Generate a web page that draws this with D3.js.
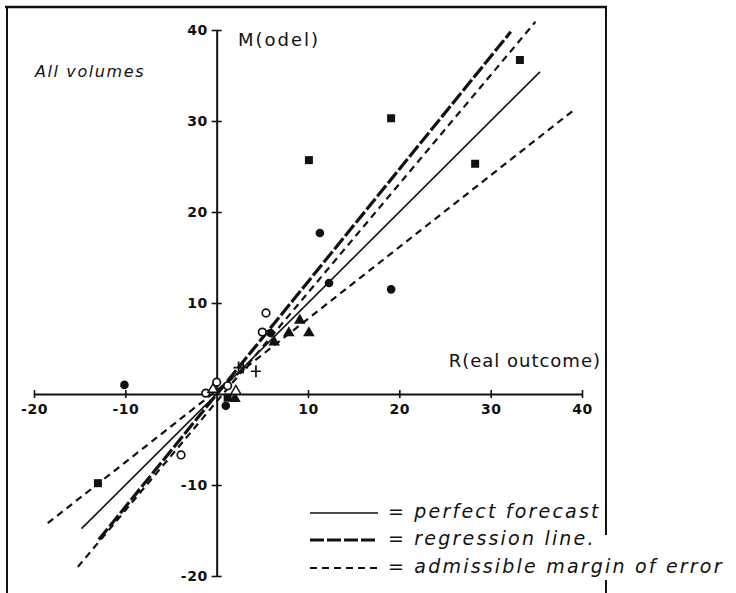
<!DOCTYPE html>
<html>
<head>
<meta charset="utf-8">
<script src="https://cdn.jsdelivr.net/npm/d3@7"></script>
<style>
body{margin:0;background:#fff;}
svg{display:block;}
text{font-family:"DejaVu Sans",sans-serif;fill:#111;}
</style>
</head>
<body>
<svg></svg>
<script>
// tick labels (0 is left out on both axes)
var xTicks = [-20,-10,10,20,30,40];
var yTicks = [40,30,20,10,-10,-20];

var squares = [[10.1,25.7],[19.1,30.3],[33.2,36.7],[28.3,25.3],[-13.0,-9.8],[1.2,-0.4]];
var dots = [[11.3,17.7],[12.3,12.2],[19.1,11.5],[-10.1,1.0],[5.9,6.7],[1.0,-1.3]];
var rings = [[5.4,8.9],[5.0,6.8],[-3.9,-6.7],[0,1.3],[1.2,0.9],[-1.2,0.1]];
var triangles = [[9.1,8.1],[7.9,6.7],[10.1,6.7],[6.3,5.7],[2.0,-0.5]];
var openTriangles = [[2.1,0.3],[-0.4,0.5]];
var crosses = [[2.4,2.9],[2.9,2.9],[4.3,2.5]];

// the four lines, start and end
var perfectLine = [[-14.8,-14.8],[35.4,35.4]];
var regressionLine = [[-12.9,-16.0],[32.2,39.8]];
var marginHigh = [[-15.2,-19.0],[34.9,40.9]];
var marginLow = [[-18.5,-14.2],[39.1,31.2]];

var legendNames = ["= perfect forecast","= regression line.","= admissible margin of error"];

var width = 736;
var height = 593;

var svg = d3.select("svg")
            .attr("width",width)
            .attr("height",height);

var x = d3.scaleLinear().domain([-20,40]).range([34,582]);
var y = d3.scaleLinear().domain([-20,40]).range([576,30]);

// frame of the scanned page
var frame = svg.append("g").attr("stroke","#111").attr("fill","none");
frame.append("line").attr("x1",5).attr("y1",7).attr("x2",607).attr("y2",7).attr("stroke-width",2.5);
frame.append("line").attr("x1",7).attr("y1",7).attr("x2",7).attr("y2",593).attr("stroke-width",2);
frame.append("line").attr("x1",606).attr("y1",7).attr("x2",606).attr("y2",535).attr("stroke-width",2);
frame.append("line").attr("x1",606).attr("y1",580).attr("x2",606).attr("y2",593).attr("stroke-width",2);

// axes
var xAxis = d3.axisBottom(x)
              .tickValues(xTicks)
              .tickSizeInner(4)
              .tickSizeOuter(0)
              .tickPadding(6)
              .tickFormat(function(d){ return d; });

var yAxis = d3.axisLeft(y)
              .tickValues(yTicks)
              .tickSizeInner(5)
              .tickSizeOuter(0)
              .tickPadding(4)
              .tickFormat(function(d){ return d; });

var gx = svg.append("g")
            .attr("transform","translate(0,"+y(0)+")")
            .call(xAxis);

var gy = svg.append("g")
            .attr("transform","translate("+x(0)+",0)")
            .call(yAxis);

[gx,gy].forEach(function(g){
  g.attr("font-family",null).attr("font-size",null);
  g.select(".domain").attr("stroke","#111").attr("stroke-width",2);
  g.selectAll(".tick line").attr("stroke","#111").attr("stroke-width",1.6);
  g.selectAll(".tick text")
   .style("font-size","14px")
   .style("font-weight","bold")
   .style("letter-spacing","0.5px");
});
gx.selectAll(".tick line").attr("y1",-4);
gy.selectAll(".tick line").attr("x1",5);

// lines
var line = d3.line()
             .x(function(d){ return x(d[0]); })
             .y(function(d){ return y(d[1]); });

var lineStyles = [
  {data:perfectLine, w:1.6, dash:null},
  {data:regressionLine, w:3.2, dash:"14,3"},
  {data:marginHigh, w:2.2, dash:"7,5"},
  {data:marginLow, w:2.2, dash:"7,5"}
];

svg.selectAll("path.fit")
   .data(lineStyles)
   .enter()
   .append("path")
   .attr("class","fit")
   .attr("d",function(d){ return line(d.data); })
   .attr("fill","none")
   .attr("stroke","#111")
   .attr("stroke-width",function(d){ return d.w; })
   .attr("stroke-dasharray",function(d){ return d.dash; });

// markers
svg.selectAll("path.sq")
   .data(squares)
   .enter()
   .append("path")
   .attr("class","sq")
   .attr("d",d3.symbol().type(d3.symbolSquare).size(64))
   .attr("transform",function(d){ return "translate("+x(d[0])+","+y(d[1])+")"; })
   .attr("fill","#111");

svg.selectAll("circle.dot")
   .data(dots)
   .enter()
   .append("circle")
   .attr("class","dot")
   .attr("cx",function(d){ return x(d[0]); })
   .attr("cy",function(d){ return y(d[1]); })
   .attr("r",4.3)
   .attr("fill","#111");

svg.selectAll("circle.ring")
   .data(rings)
   .enter()
   .append("circle")
   .attr("class","ring")
   .attr("cx",function(d){ return x(d[0]); })
   .attr("cy",function(d){ return y(d[1]); })
   .attr("r",3.8)
   .attr("fill","#fff")
   .attr("stroke","#111")
   .attr("stroke-width",1.7);

svg.selectAll("path.tri")
   .data(triangles)
   .enter()
   .append("path")
   .attr("class","tri")
   .attr("d",d3.symbol().type(d3.symbolTriangle).size(58))
   .attr("transform",function(d){ return "translate("+x(d[0])+","+y(d[1])+")"; })
   .attr("fill","#111");

svg.selectAll("path.otri")
   .data(openTriangles)
   .enter()
   .append("path")
   .attr("class","otri")
   .attr("d",d3.symbol().type(d3.symbolTriangle).size(44))
   .attr("transform",function(d){ return "translate("+x(d[0])+","+y(d[1])+")"; })
   .attr("fill","#fff")
   .attr("stroke","#111")
   .attr("stroke-width",1.5);

svg.selectAll("path.cross")
   .data(crosses)
   .enter()
   .append("path")
   .attr("class","cross")
   .attr("d",function(d){
     var cx = x(d[0]), cy = y(d[1]);
     return "M"+(cx-5)+","+cy+"H"+(cx+5)+"M"+cx+","+(cy-6)+"V"+(cy+6);
   })
   .attr("stroke","#111")
   .attr("stroke-width",1.7);

// axis titles and note
svg.append("text").attr("x",238).attr("y",46)
   .style("font-size","18px").style("letter-spacing","2px")
   .text("M(odel)");

svg.append("text").attr("x",601).attr("y",367).attr("text-anchor","end")
   .style("font-size","18px").style("letter-spacing","1px")
   .text("R(eal outcome)");

svg.append("text").attr("x",35).attr("y",77)
   .style("font-size","16px").style("font-style","italic").style("letter-spacing","1.6px")
   .text("All volumes");

// legend
var legendY = [513,540,568];
var legend = svg.selectAll("g.leg")
                .data(legendNames)
                .enter()
                .append("g")
                .attr("class","leg")
                .attr("transform",function(d,i){ return "translate(0,"+legendY[i]+")"; });

legend.append("line")
      .attr("x1",310).attr("x2",378)
      .attr("stroke","#111")
      .attr("stroke-width",function(d,i){ return [1.6,3.2,2.2][i]; })
      .attr("stroke-dasharray",function(d,i){ return [null,"14,3","7,5"][i]; });

legend.append("text")
      .attr("x",388).attr("y",5)
      .style("font-size","19px").style("font-style","italic").style("letter-spacing","2.2px")
      .text(function(d){ return d; });
</script>
</body>
</html>
